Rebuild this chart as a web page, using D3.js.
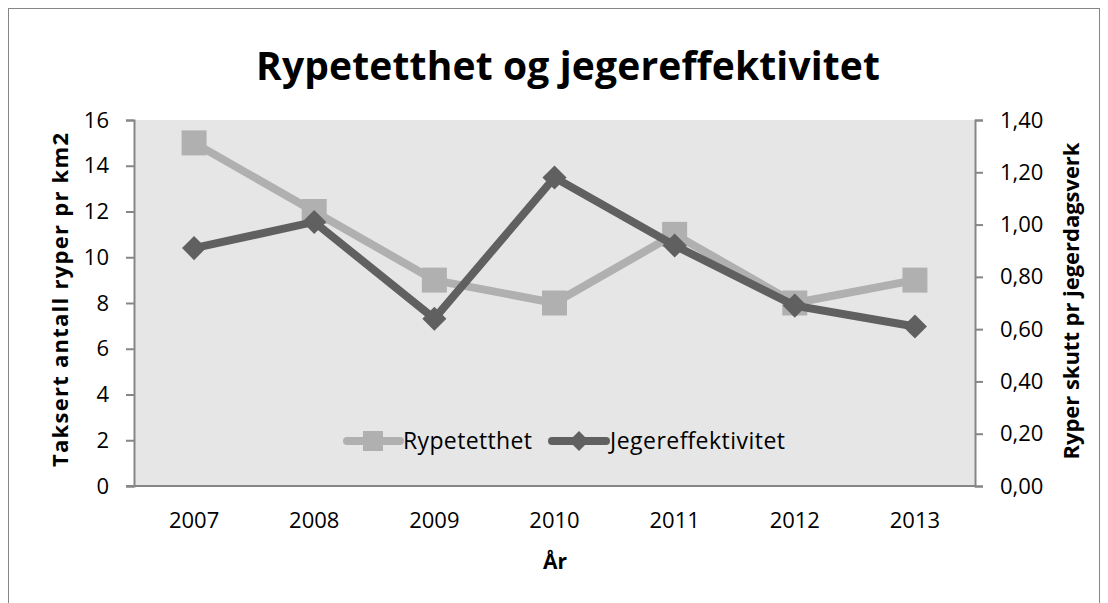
<!DOCTYPE html>
<html>
<head>
<meta charset="utf-8">
<script src="https://cdn.jsdelivr.net/npm/d3@7"></script>
<style>
  body { margin: 0; background: #fff; }
  text { font-family: "Open Sans", "DejaVu Sans", sans-serif; }
</style>
</head>
<body>
<script>
// data
var years = ["2007", "2008", "2009", "2010", "2011", "2012", "2013"];
var rypetetthet = [15, 12, 9, 8, 11, 8, 9];
var jegereffektivitet = [0.91, 1.01, 0.64, 1.18, 0.92, 0.69, 0.61];
var leftTicks = [0, 2, 4, 6, 8, 10, 12, 14, 16];
var rightTicks = [0, 0.2, 0.4, 0.6, 0.8, 1.0, 1.2, 1.4];

var W = 1108, H = 603;
var pLeft = 134, pRight = 975, pTop = 120, pBottom = 486;

var svg = d3.select("body").append("svg")
  .attr("width", W).attr("height", H);

svg.append("rect").attr("x", 8.5).attr("y", 8.5)
  .attr("width", 1091).attr("height", 620)
  .attr("fill", "#fff").attr("stroke", "#868686");

var x = d3.scaleBand().domain(years).range([pLeft, pRight]);
var yL = d3.scaleLinear().domain([0, 16]).range([pBottom, pTop]);
var yR = d3.scaleLinear().domain([0, 1.4]).range([pBottom, pTop]);

svg.append("rect").attr("x", pLeft).attr("y", pTop)
  .attr("width", pRight - pLeft).attr("height", pBottom - pTop)
  .attr("fill", "#e6e6e6");

// title
svg.append("text").attr("x", 568).attr("y", 80)
  .attr("text-anchor", "middle").attr("font-size", 39).attr("font-weight", "bold")
  .attr("textLength", 624).attr("lengthAdjust", "spacing")
  .text("Rypetetthet og jegereffektivitet");

// axes
var axL = svg.append("g").attr("transform", "translate(" + pLeft + ",0)")
  .call(d3.axisLeft(yL).tickValues(leftTicks).tickSize(8).tickPadding(17));
var axR = svg.append("g").attr("transform", "translate(" + pRight + ",0)")
  .call(d3.axisRight(yR).tickValues(rightTicks).tickSize(8).tickPadding(17)
    .tickFormat(function(d) { return d3.format(".2f")(d).replace(".", ","); }));
var axB = svg.append("g").attr("transform", "translate(0," + pBottom + ")")
  .call(d3.axisBottom(x).tickSize(0).tickPadding(26));

[axL, axR, axB].forEach(function(g) {
  g.selectAll("path").attr("stroke", "#868686").attr("stroke-width", 2);
  g.selectAll("line").attr("stroke", "#868686").attr("stroke-width", 2);
  g.selectAll("text").attr("font-size", 22).attr("fill", "#000")
    .style("font-family", "'Open Sans', sans-serif");
});
axB.select("path").attr("d", "M" + (pLeft - 8) + ",0H" + pRight);

// axis titles
svg.append("text").attr("transform", "translate(68,300) rotate(-90)")
  .attr("text-anchor", "middle").attr("font-size", 22).attr("font-weight", "bold")
  .attr("textLength", 334).attr("lengthAdjust", "spacing")
  .text("Taksert antall ryper pr km2");
svg.append("text").attr("transform", "translate(1079,301) rotate(-90)")
  .attr("text-anchor", "middle").attr("font-size", 22).attr("font-weight", "bold")
  .attr("textLength", 317).attr("lengthAdjust", "spacing")
  .text("Ryper skutt pr jegerdagsverk");
svg.append("text").attr("x", 555).attr("y", 569)
  .attr("text-anchor", "middle").attr("font-size", 21).attr("font-weight", "bold")
  .text("År");

var cx = function(i) { return x(years[i]) + x.bandwidth() / 2; };

// Rypetetthet
var lightCol = "#b0b0b0", darkCol = "#606060";
svg.append("path").datum(rypetetthet)
  .attr("d", d3.line().x(function(d, i) { return cx(i); }).y(function(d) { return yL(d); }))
  .attr("fill", "none").attr("stroke", lightCol).attr("stroke-width", 8);
svg.selectAll("rect.sq").data(rypetetthet).enter().append("rect")
  .attr("class", "sq")
  .attr("x", function(d, i) { return cx(i) - 12.5; })
  .attr("y", function(d) { return yL(d) - 12.5; })
  .attr("width", 25).attr("height", 25).attr("fill", lightCol);

// Jegereffektivitet
svg.append("path").datum(jegereffektivitet)
  .attr("d", d3.line().x(function(d, i) { return cx(i); }).y(function(d) { return yR(d); }))
  .attr("fill", "none").attr("stroke", darkCol).attr("stroke-width", 8);
var diamond = d3.symbol().type(d3.symbolSquare).size(290);
svg.selectAll("path.dm").data(jegereffektivitet).enter().append("path")
  .attr("class", "dm")
  .attr("d", diamond)
  .attr("transform", function(d, i) { return "translate(" + cx(i) + "," + yR(d) + ") rotate(45)"; })
  .attr("fill", darkCol);

// legend
var lg = svg.append("g");
lg.append("line").attr("x1", 347).attr("x2", 400).attr("y1", 441).attr("y2", 441)
  .attr("stroke", lightCol).attr("stroke-width", 8).attr("stroke-linecap", "round");
lg.append("rect").attr("x", 363).attr("y", 431).attr("width", 20).attr("height", 20).attr("fill", lightCol);
lg.append("text").attr("x", 403).attr("y", 449).attr("font-size", 23)
  .attr("textLength", 129).attr("lengthAdjust", "spacing").text("Rypetetthet");
lg.append("line").attr("x1", 552).attr("x2", 606).attr("y1", 441).attr("y2", 441)
  .attr("stroke", darkCol).attr("stroke-width", 8).attr("stroke-linecap", "round");
lg.append("path").attr("d", d3.symbol().type(d3.symbolSquare).size(200))
  .attr("transform", "translate(579,441) rotate(45)").attr("fill", darkCol);
lg.append("text").attr("x", 610).attr("y", 449).attr("font-size", 23)
  .attr("textLength", 175).attr("lengthAdjust", "spacing").text("Jegereffektivitet");
</script>
</body>
</html>
